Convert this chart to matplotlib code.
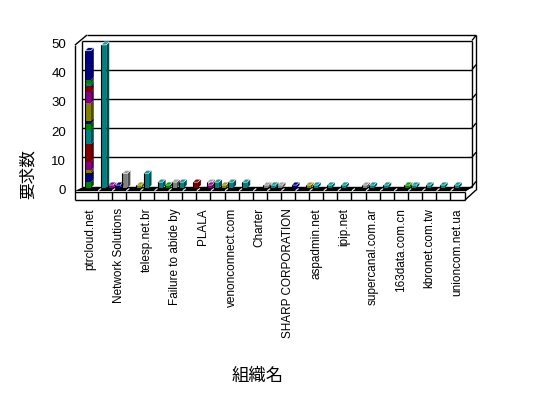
import matplotlib
matplotlib.use("Agg")
import matplotlib.pyplot as plt
from matplotlib.patches import Polygon

plt.rcParams['font.family'] = ['Liberation Sans', 'Noto Sans CJK JP', 'DejaVu Sans']

# --- data -------------------------------------------------------------
categories = ["ptrcloud.net", "", "Network Solutions", "", "telesp.net.br", "",
              "Failure to abide by", "", "PLALA", "", "venonconnect.com", "",
              "Charter", "", "SHARP CORPORATION", "", "aspadmin.net", "",
              "ipip.net", "", "supercanal.com.ar", "", "163data.com.cn", "",
              "kbronet.com.tw", "", "unioncom.net.ua"]

NAVY, MAROON, OLIVE, PURPLE = "#000080", "#800000", "#808000", "#800080"
TEAL, GREEN, GRAY = "#008080", "#008000", "#808080"

# first category: stacked segments (bottom to top)
stack_values = [2, 3, 1, 3, 6, 5, 2, 1, 6, 4, 2, 1, 1, 10]
stack_colors = [GREEN, NAVY, OLIVE, PURPLE, MAROON, TEAL, GREEN, NAVY,
                OLIVE, PURPLE, MAROON, TEAL, GREEN, NAVY]

# remaining bars: category index, slot (0 front/left, 1 right), value, colour
bar_cat = [1, 1, 2, 2, 3, 4, 5, 5, 6, 6, 7, 8, 8, 9, 9, 10, 11, 12, 13, 13,
           14, 15, 16, 17, 18, 19, 20, 21, 22, 23, 24, 25, 26]
bar_slot = [0, 1, 0, 1, 1, 0, 0, 1, 0, 1, 1, 1, 1, 0, 1, 0, 0, 1, 0, 1,
            1, 1, 0, 0, 0, 1, 0, 0, 1, 0, 0, 0, 0]
bar_value = [49, 1, 1, 5, 1, 5, 2, 1, 2, 2, 2, 2, 1, 2, 1, 2, 2, 1, 1, 1,
             1, 1, 1, 1, 1, 1, 1, 1, 1, 1, 1, 1, 1]
bar_color = [TEAL, PURPLE, NAVY, GRAY, OLIVE, TEAL, TEAL, GREEN, GRAY, TEAL,
             MAROON, GRAY, PURPLE, TEAL, OLIVE, TEAL, TEAL, GRAY, TEAL, GRAY,
             NAVY, OLIVE, TEAL, TEAL, TEAL, GRAY, TEAL, TEAL, GREEN, TEAL,
             TEAL, TEAL, TEAL]

y_ticks = [0, 10, 20, 30, 40, 50]

# --- figure / axes ----------------------------------------------------
W, H = 548, 398
fig = plt.figure(figsize=(W / 100, H / 100), dpi=100)
fig.patch.set_facecolor("white")

CAT_PX = 14.1            # pixels per category
UNIT_PX = 146 / 50       # pixels per value unit
X0_PX, X1_PX, FIRST_PX = 75, 465, 90.6
xl = (X0_PX - FIRST_PX) / CAT_PX
xr = (X1_PX - FIRST_PX) / CAT_PX

ax = fig.add_axes([X0_PX / W, (H - 191) / H, (X1_PX - X0_PX) / W, 146 / H])
ax.set_xlim(xl, xr)
ax.set_ylim(0, 50)
ax.axis("off")

PX = 1 / CAT_PX
PY = 1 / UNIT_PX


def P(x, y, dx=0.0, dy=0.0):
    """Data point shifted by dx pixels right and dy pixels up."""
    return (x + dx * PX, y + dy * PY)


def line(a, b, **kw):
    kw.setdefault("color", "black")
    kw.setdefault("lw", 1.0)
    ax.plot([a[0], b[0]], [a[1], b[1]], clip_on=False,
            solid_capstyle="butt", **kw)


def poly(pts, fc, ec="none", lw=0.0, z=2):
    ax.add_patch(Polygon(pts, closed=True, facecolor=fc, edgecolor=ec,
                         lw=lw, clip_on=False, zorder=z))


# back wall with gridlines
BWX, BWY = 7, 4.5
for v in y_ticks:
    line(P(xl, v, BWX, BWY), P(xr, v, BWX, BWY), zorder=1)
    line(P(xr, v, BWX, BWY), P(xr, v, 11, BWY + 5), zorder=1)
line(P(xl, 0, BWX, BWY), P(xl, 50, BWX, BWY), zorder=1)
line(P(xr, 0, BWX, BWY), P(xr, 50, BWX, BWY), zorder=1)

# outer edges of the box
line(P(xl, 50, 12, 10), P(xr, 50, 11, 10), zorder=1)
line(P(xr, 50, 11, 10), P(xr, 0, 11, 1), zorder=1)
line(P(xl, 50), P(xl, 50, 12, 10), zorder=1)
line(P(xl, 50), P(xl, 0, 0, -9), zorder=5)

# floor: black top face and front face divided into cells
poly([P(xl, 0), P(xr, 0), P(xr, 0, BWX, 3.5), P(xl, 0, BWX, 3.5)],
     fc="black", z=2)
n = len(categories)
for i in range(n - 1):
    b = i + 0.5
    line(P(b, 0, 0.5, 0.3), P(b, 0, 3.5, 2.5), color="white", lw=0.8, zorder=2.5)
line(P(xl, 0, 0, -0.5), P(xr, 0, 0, -0.5), zorder=5)
line(P(xl, 0, 0, -9), P(xr, 0, 0, -9), zorder=5)
line(P(xr, 0, 0, -0.5), P(xr, 0, 0, -9), zorder=5)
for i in range(n - 1):
    b = i + 0.5
    line(P(b, 0, 0, -0.5), P(b, 0, 0, -9), zorder=5)
line(P(xr, 0, 0, -9), P(xr, 0, 11, 1), zorder=5)
line(P(xr, 0), P(xr, 0, BWX, BWY), zorder=5)

# bars
BAR_W = 5 * PX
DDX, DDY = 3, 3
BASE = 3 * PY
SLOT_OFF = [-0.07, 0.43]


def shade(c, f):
    c = matplotlib.colors.to_rgb(c)
    return tuple(min(1, max(0, ch * f)) for ch in c)


def bar3d(xc, y0, y1, color, width=BAR_W, top=True, z=3):
    x0, x1 = xc - width / 2, xc + width / 2
    poly([(x1, y0), P(x1, y0, DDX, DDY), P(x1, y1, DDX, DDY), (x1, y1)],
         fc=shade(color, 0.6), z=z)
    poly([(x0, y0), (x1, y0), (x1, y1), (x0, y1)], fc=color, z=z)
    if top:
        poly([(x0, y1), (x1, y1), P(x1, y1, DDX, DDY), P(x0, y1, DDX, DDY)],
             fc=shade(color, 1.25), ec="white", lw=0.4, z=z)
    line((x0, y0), (x0, y1), lw=0.8, zorder=z + 0.1)


# stacked first bar
x_stack = 0 - 0.2
cum = BASE
for k, (v, c) in enumerate(zip(stack_values, stack_colors)):
    bar3d(x_stack, cum, cum + v, c, width=6 * PX,
          top=(k == len(stack_values) - 1))
    cum += v

order = sorted(range(len(bar_cat)), key=lambda j: (bar_cat[j], -bar_slot[j]))
for j in order:
    xc = bar_cat[j] + SLOT_OFF[bar_slot[j]]
    bar3d(xc, BASE, BASE + bar_value[j], bar_color[j])

# tick labels
for v in y_ticks:
    ax.text(*P(xl, v, -9, 0), str(v), ha="right", va="center", fontsize=9.5,
            clip_on=False)
for i, name in enumerate(categories):
    if name:
        ax.text(*P(i, 0, 0, -17), name, rotation=90, ha="center", va="top",
                fontsize=8.5, clip_on=False)

# axis titles
fig.text(28 / W, 1 - 174 / H, "要求数", rotation=90, ha="center", va="center",
         fontsize=12, family=["Noto Sans CJK JP"])
fig.text(258 / W, 1 - 376 / H, "組織名", ha="center", va="center",
         fontsize=12.5, family=["Noto Sans CJK JP"])

fig.savefig("out.png", dpi=100, facecolor="white")
